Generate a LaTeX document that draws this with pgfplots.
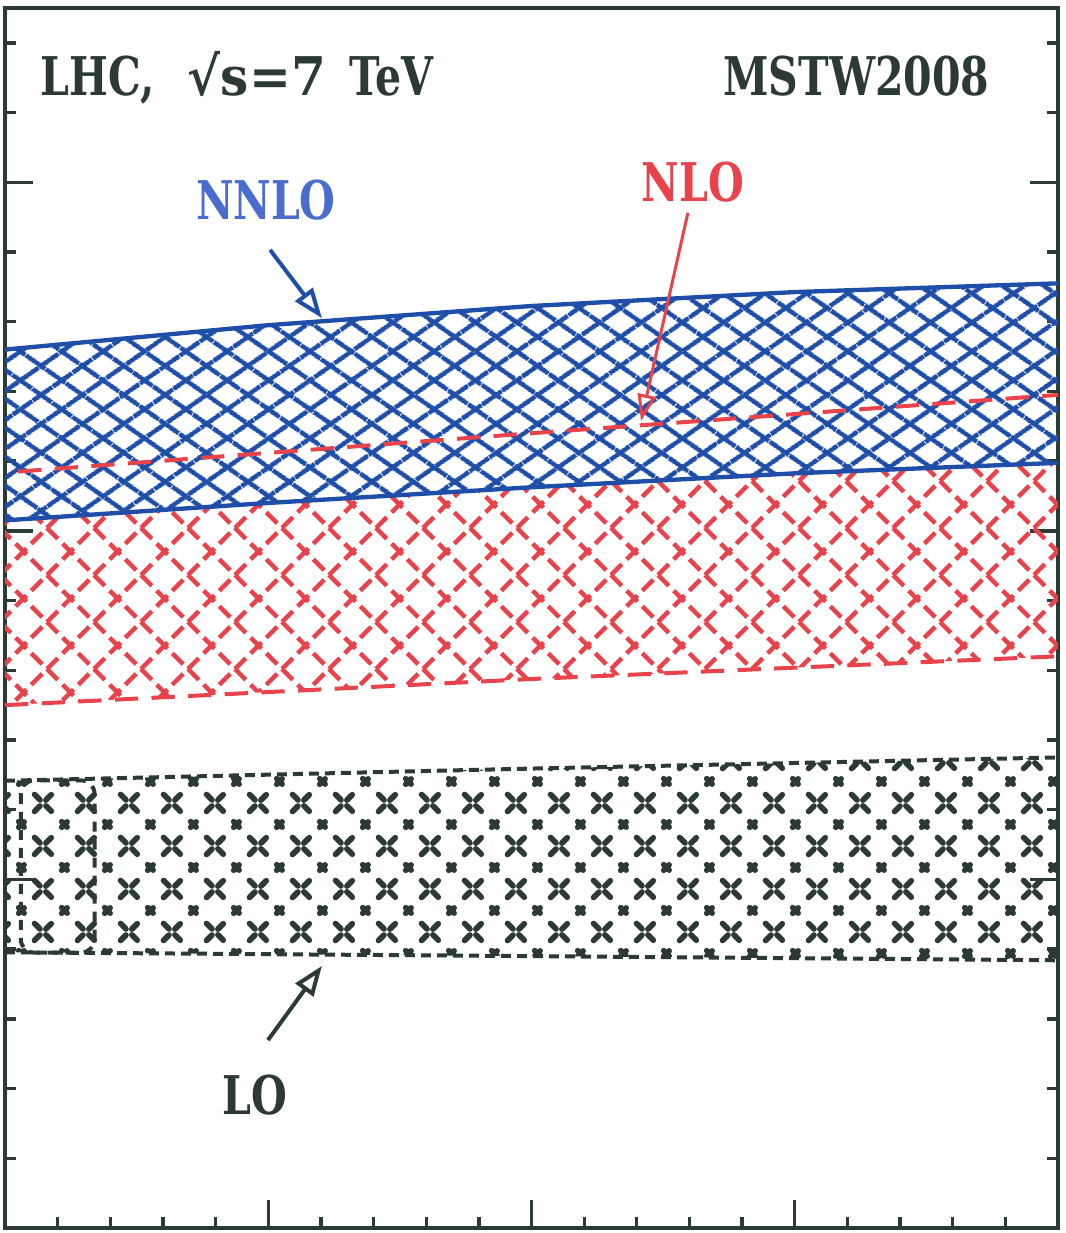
\documentclass[border=0pt]{standalone}
\usepackage{pgfplots}
\pgfplotsset{compat=1.18}
\usepackage{graphicx}
\usepgfplotslibrary{fillbetween}
\usetikzlibrary{patterns,patterns.meta,arrows.meta}
\usepackage{fontspec}
\newfontfamily\labfont[FakeStretch=0.77]{DejaVu Serif}
\definecolor{bandblue}{RGB}{31,78,168}
\definecolor{textblue}{RGB}{74,108,207}
\definecolor{bandred}{RGB}{232,67,75}
\definecolor{ink}{RGB}{43,58,51}

\pgfdeclarepatternformonly{redhatch}{\pgfpoint{-2pt}{-2pt}}{\pgfpoint{16.1pt}{16.1pt}}{\pgfpoint{14.1pt}{14.1pt}}{%
  \pgfsetlinewidth{1.35pt}%
  \pgfsetdash{{4.6pt}{2.05pt}}{0pt}%
  \pgfpathmoveto{\pgfpoint{0pt}{0pt}}\pgfpathlineto{\pgfpoint{14.1pt}{14.1pt}}%
  \pgfpathmoveto{\pgfpoint{0pt}{14.1pt}}\pgfpathlineto{\pgfpoint{14.1pt}{0pt}}%
  \pgfusepath{stroke}}
\pgfdeclarepatternformonly{blackhatch}{\pgfpoint{-2pt}{-2pt}}{\pgfpoint{14.9pt}{14.9pt}}{\pgfpoint{12.9pt}{12.9pt}}{%
  \pgfsetlinewidth{1.7pt}%
  \pgfsetroundcap
  \pgfsetdash{{2.3pt}{4.42pt}{2.3pt}{4.42pt}{2.3pt}{2.51pt}}{17.04pt}%
  \pgfpathmoveto{\pgfpoint{0pt}{0pt}}\pgfpathlineto{\pgfpoint{12.9pt}{12.9pt}}%
  \pgfpathmoveto{\pgfpoint{0pt}{12.9pt}}\pgfpathlineto{\pgfpoint{12.9pt}{0pt}}%
  \pgfusepath{stroke}}

\newcommand{\lab}{\labfont\bfseries\fontsize{16}{19}\selectfont}

\begin{document}
\begin{tikzpicture}
\begin{axis}[
  scale only axis, width=315.9pt, height=366pt,
  xmin=0, xmax=4, ymin=0, ymax=3.5,
  xtick={0,1,2,3,4}, minor xtick={0.2,0.4,0.6,0.8,1.2,1.4,1.6,1.8,2.2,2.4,2.6,2.8,3.2,3.4,3.6,3.8},
  ytick={0,1,2,3}, minor ytick={0.2,0.4,0.6,0.8,1.2,1.4,1.6,1.8,2.2,2.4,2.6,2.8,3.2,3.4},
  xticklabels={}, yticklabels={},
  xtick pos=bottom, ytick pos=both, tick align=inside,
  major tick length=8.5pt, minor tick length=3.3pt,
  axis line style={ink, line width=1.2pt},
  every tick/.style={ink, line width=1pt},
]
\coordinate (LL) at (rel axis cs:0,0);
\coordinate (UR) at (rel axis cs:1,1);

% curves
\addplot[name path=NNu, draw=none, forget plot] coordinates {(0,2.52)(1,2.59)(2,2.645)(3,2.685)(4,2.71)};
\addplot[name path=NNl, draw=none, forget plot] coordinates {(0,2.03)(1,2.08)(2,2.125)(3,2.165)(4,2.195)};
\addplot[name path=NLl, draw=none, forget plot] coordinates {(0,1.50)(2,1.575)(4,1.64)};
\addplot[name path=LOu, draw=none, forget plot] coordinates {(0,1.283)(2,1.318)(4,1.350)};
\addplot[name path=LOl, draw=none, forget plot] coordinates {(0,0.791)(2,0.780)(4,0.768)};

% LO band
\addplot[pattern=blackhatch, pattern color=ink, draw=none] fill between[of=LOu and LOl];
\addplot[ink, line width=1.2pt, dash pattern=on 3pt off 1.8pt] coordinates {(0,1.283)(2,1.318)(4,1.350)};
\addplot[ink, line width=1.2pt, dash pattern=on 3pt off 1.8pt] coordinates {(0,0.791)(2,0.780)(4,0.768)};
\draw[ink, line width=1.2pt, dash pattern=on 3pt off 2.4pt, rounded corners=4pt] (axis cs:0.06,1.284) rectangle (axis cs:0.34,0.790);

% NLO band
\addplot[pattern=redhatch, pattern color=bandred, draw=none] fill between[of=NNl and NLl];
\addplot[bandred, line width=1.2pt, dash pattern=on 7pt off 4pt] coordinates {(0,1.50)(2,1.575)(4,1.64)};

% NNLO band
\addplot[pattern={Lines[angle=35, distance=7.4pt, line width=1.5pt]}, pattern color=bandblue, draw=none] fill between[of=NNu and NNl];
\addplot[pattern={Lines[angle=-35, distance=7.4pt, line width=1.5pt]}, pattern color=bandblue, draw=none] fill between[of=NNu and NNl];
\addplot[bandblue, line width=1.3pt] coordinates {(0,2.52)(1,2.59)(2,2.645)(3,2.685)(4,2.71)};
\addplot[bandblue, line width=1.3pt] coordinates {(0,2.03)(1,2.08)(2,2.125)(3,2.165)(4,2.195)};

% NLO central
\addplot[bandred, line width=1.2pt, dash pattern=on 7pt off 4pt] coordinates {(0.05,2.17)(2,2.28)(4,2.39)};

% labels
\node[anchor=west, ink, inner sep=0pt] at (axis cs:0.133,3.30) {\lab LHC,\hspace{10pt}\scalebox{1.22}[1]{√s=7}\hspace{7pt}TeV};
\node[anchor=east, ink, inner sep=0pt] at (axis cs:3.742,3.305) {\lab MSTW2008};
\node[textblue, inner sep=0pt] at (axis cs:0.991,2.949) {\lab NNLO};
\node[bandred, inner sep=0pt] at (axis cs:2.613,3.0) {\lab NLO};
\node[ink, inner sep=0pt] at (axis cs:0.950,0.3815) {\lab LO};

\draw[bandblue, line width=1.2pt, -{Triangle[open, length=9pt, width=6.5pt]}] (axis cs:1.007,2.806) -- (axis cs:1.204,2.610);
\draw[bandred, line width=0.9pt, -{Triangle[open, length=8pt, width=5.5pt]}] (axis cs:2.594,2.912) -- (axis cs:2.416,2.315);
\draw[ink, line width=1.2pt, -{Triangle[open, length=9pt, width=6.5pt]}] (axis cs:0.999,0.539) -- (axis cs:1.204,0.752);
\end{axis}
\pgfresetboundingbox
\path ([shift={(-1.5pt,-1.5pt)}]LL) rectangle ([shift={(2.1pt,2.4pt)}]UR);
\end{tikzpicture}
\end{document}
